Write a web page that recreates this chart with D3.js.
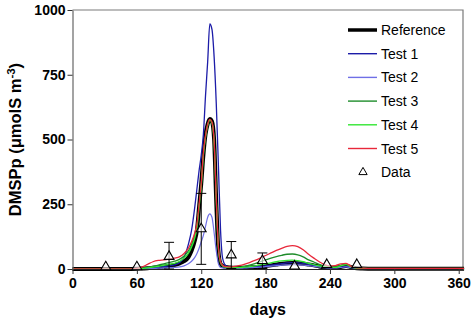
<!DOCTYPE html>
<html><head><meta charset="utf-8">
<script src="https://cdn.jsdelivr.net/npm/d3@7"></script>
<style>
html,body{margin:0;padding:0;background:#fff;}
svg{display:block;font-family:"Liberation Sans",Arial,sans-serif;}
</style></head>
<body><svg id="chart" width="474" height="321"></svg>
<script>
const days = [0,10,20,30,40,50,60,65,70,75,80,85,90,95,100,104,108,111,114,116,118,120,122,124,126,128,130,132,134,136,138,140,143,147,151,155,160,165,170,175,180,185,190,195,200,205,210,215,220,225,230,235,240,245,250,255,260,265,270,280,300,320,340,365];

const reference = [0,0,0,0,0,0, 1,2,3,5,7,10,12,15,22, 30,45,70,110,150,240,330,440,520,560,579,570,500,260,70,20,12, 8,6,5,5,5,6,7,9,11,14,17,20,22,23,22,20,17,14,10,7,5,5,8,12,7,3,2, 1,1,1,1,1];
const test1 = [0,0,0,0,0,0, 1,2,3,4,6,9,12,16,25, 45,95,150,240,310,380,440,520,670,800,946,925,820,640,400,150,40, 12,6,5,5,5,6,8,10,12,15,18,21,24,25,24,22,18,14,10,7,5,5,7,10,6,3,2, 1,1,1,1,1];
const test2 = [0,0,0,0,0,0, 0,1,1,2,3,4,5,6,8, 12,20,30,45,60,80,105,130,165,200,213,200,140,70,20,6,4, 3,3,3,3,4,5,6,7,9,11,13,15,16,17,16,15,13,10,8,5,4,4,6,8,5,3,2, 1,1,1,1,1];
const test3 = [0,0,0,0,0,0, 1,3,6,10,15,20,25,30,38, 50,70,95,130,165,240,320,440,510,555,575,565,490,270,80,25,12, 8,6,6,7,10,15,21,28,35,42,48,53,57,58,55,47,35,27,18,11,8,8,14,18,10,4,3, 2,2,2,2,2];
const test4 = [0,0,0,0,0,0, 1,2,4,7,10,14,18,22,30, 42,60,85,120,160,240,320,440,510,555,575,565,490,270,80,25,12, 7,5,5,5,7,9,12,16,20,24,28,31,33,34,32,28,22,17,12,8,6,6,12,17,8,3,2, 1,1,1,1,1];
const test5 = [0,0,0,0,0,0, 2,8,18,28,33,35,38,42,48, 60,80,105,140,175,250,330,450,515,560,578,568,495,275,85,28,14, 9,8,10,13,18,25,33,42,52,62,72,80,87,90,86,74,57,42,28,17,12,13,20,22,10,4,3, 2,2,2,2,2];

const dataDays = [31,60,90,120,148,177,207,237,265];
const dataValues = [8,8,48,155,54,32,11,17,17];
const dataErrors = [0,0,55,137,52,30,0,0,0];

const seriesNames = ["Reference","Test 1","Test 2","Test 3","Test 4","Test 5"];
const seriesColors = ["#000000","#1c1ca8","#6f6fe6","#1e8c2a","#33e633","#e8283a"];
const seriesWidths = [4,1.3,1.2,1.3,1.3,1.3];
const xTicks = [0,60,120,180,240,300,360];
const yTicks = [0,250,500,750,1000];

const svg = d3.select("#chart");
const m = {l:72.5, t:10, r:11, b:52};
const W = 474, H = 321;
const x = d3.scaleLinear().domain([0,364]).range([m.l, W-m.r]);
const y = d3.scaleLinear().domain([0,1000]).range([H-m.b, m.t]);

// frame (top and right)
svg.append("path")
  .attr("d", `M${m.l},${m.t}H${W-m.r}V${H-m.b}`)
  .attr("fill","none").attr("stroke","#7a7a7a").attr("stroke-width",1.2);

const allSeries = [reference,test1,test2,test3,test4,test5];
const line = d3.line().x((d,i)=>x(days[i])).y(d=>y(d)).curve(d3.curveMonotoneX);
allSeries.forEach((s,k)=>{
  svg.append("path").datum(s).attr("d",line)
    .attr("fill","none").attr("stroke",seriesColors[k])
    .attr("stroke-width",seriesWidths[k]).attr("stroke-linejoin","round");
});

// axes
const xAxis = svg.append("g").attr("transform",`translate(0,${H-m.b})`)
  .call(d3.axisBottom(x).tickValues(xTicks).tickFormat(d3.format("d")).tickSize(5).tickPadding(4).tickSizeOuter(0));
const yAxis = svg.append("g").attr("transform",`translate(${m.l},0)`)
  .call(d3.axisLeft(y).tickValues(yTicks).tickFormat(d3.format("d")).tickSize(5).tickPadding(2).tickSizeOuter(0));
[xAxis,yAxis].forEach(g=>{
  g.selectAll("text").attr("font-family","Liberation Sans, Arial, sans-serif")
   .attr("font-size",14).attr("font-weight","bold").attr("fill","#000");
  g.selectAll("line").attr("stroke","#333");
});
xAxis.select(".domain").attr("stroke","#222").attr("stroke-width",1.2);
yAxis.select(".domain").attr("stroke","#666").attr("stroke-width",1.2);

// data points with error bars
const cap = 5;
dataDays.forEach((d,i)=>{
  const e = dataErrors[i];
  if (e>0){
    const lo = Math.max(0, dataValues[i]-e), hi = dataValues[i]+e;
    const g = svg.append("g").attr("stroke","#000").attr("stroke-width",1);
    g.append("line").attr("x1",x(d)).attr("x2",x(d)).attr("y1",y(lo)).attr("y2",y(hi));
    g.append("line").attr("x1",x(d)-cap).attr("x2",x(d)+cap).attr("y1",y(hi)).attr("y2",y(hi));
    g.append("line").attr("x1",x(d)-cap).attr("x2",x(d)+cap).attr("y1",y(lo)).attr("y2",y(lo));
  }
});
const tri = d3.symbol().type(d3.symbolTriangle).size(42);
dataDays.forEach((d,i)=>{
  svg.append("path").attr("d",tri).attr("transform",`translate(${x(d)},${y(dataValues[i])})`)
    .attr("fill","#fff").attr("fill-opacity",0.6).attr("stroke","#000").attr("stroke-width",1.1);
});

// axis titles
svg.append("text").attr("x",(m.l+W-m.r)/2).attr("y",315).attr("text-anchor","middle")
  .attr("font-size",16).attr("font-weight","bold").text("days");
const yt = svg.append("text").attr("transform",`translate(21,${(m.t+H-m.b)/2}) rotate(-90)`)
  .attr("text-anchor","middle").attr("font-size",16.5).attr("font-weight","bold");
yt.append("tspan").text("DMSPp (μmolS m");
yt.append("tspan").attr("dy",-6).attr("font-size",11.5).text("-3");
yt.append("tspan").attr("dy",6).text(")");

// legend
const lg = svg.append("g");
const ly0 = 30, ldy = 23.7;
seriesNames.forEach((n,k)=>{
  const yy = ly0 + k*ldy;
  lg.append("line").attr("x1",348).attr("x2",377).attr("y1",yy).attr("y2",yy)
    .attr("stroke",seriesColors[k]).attr("stroke-width",k===0?3.5:1.4);
  lg.append("text").attr("x",381).attr("y",yy+5).attr("font-size",14).text(n);
});
const dy = ly0 + 6*ldy;
lg.append("path").attr("d",d3.symbol().type(d3.symbolTriangle).size(30))
  .attr("transform",`translate(363,${dy})`).attr("fill","#fff").attr("stroke","#000").attr("stroke-width",1);
lg.append("text").attr("x",381).attr("y",dy+5).attr("font-size",14).text("Data");
</script></body></html>
